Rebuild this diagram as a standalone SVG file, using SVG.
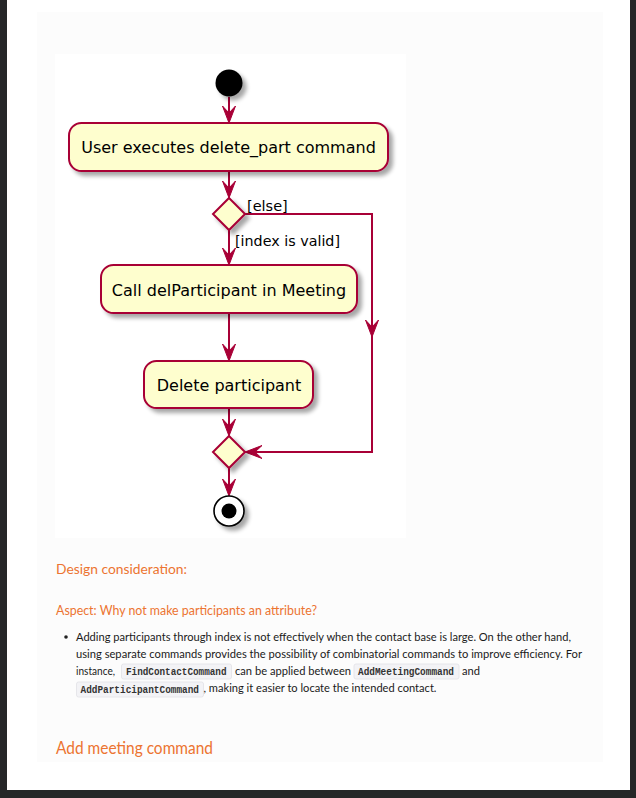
<svg xmlns="http://www.w3.org/2000/svg" width="636" height="798" viewBox="0 0 636 798">
<defs>
<filter id="sh" x="-30%" y="-30%" width="160%" height="160%">
<feGaussianBlur in="SourceAlpha" stdDeviation="2"/>
<feOffset dx="4" dy="4" result="b"/>
<feComponentTransfer><feFuncA type="linear" slope="0.35"/></feComponentTransfer>
<feMerge><feMergeNode/><feMergeNode in="SourceGraphic"/></feMerge>
</filter>
<path id="ah" d="M-6.5,-17 L0,0 L6.5,-17 L0,-10 Z" fill="#A80036" stroke="#A80036" stroke-width="1" stroke-linejoin="miter"/>
</defs>
<style>
.act{fill:#FEFECE;stroke:#A80036;stroke-width:2}
.lbl{font-family:"DejaVu Sans",Verdana,sans-serif;font-size:16px;fill:#000;text-anchor:middle}
.grd{font-family:"DejaVu Sans",Verdana,sans-serif;font-size:14.5px;fill:#000}
.ln{fill:none;stroke:#A80036;stroke-width:2}
.h{font-family:Lato,"Open Sans",sans-serif;fill:#ec7431}
.b{font-family:Lato,"Open Sans",sans-serif;font-size:11px;fill:#1a1a1a}
.code{font-family:"Liberation Mono","DejaVu Sans Mono",monospace;font-size:10px;font-weight:bold;fill:#333}
.cb{fill:#f3f3f6;stroke:#e6e6ea;stroke-width:1}
</style>
<!-- page -->
<rect x="0" y="0" width="636" height="798" fill="#262728"/>
<rect x="7" y="0" width="623" height="790" fill="#ffffff"/>
<rect x="37" y="12" width="566" height="750" fill="#fcfcfc"/>
<rect x="55" y="54" width="351" height="484" fill="#ffffff"/>

<g id="connectors">
<line class="ln" x1="229" y1="97" x2="229" y2="121"/>
<use href="#ah" x="229" y="123"/>
<line class="ln" x1="229" y1="171" x2="229" y2="196"/>
<use href="#ah" x="229" y="198"/>
<line class="ln" x1="229" y1="230" x2="229" y2="263"/>
<use href="#ah" x="229" y="265"/>
<line class="ln" x1="229" y1="313" x2="229" y2="359"/>
<use href="#ah" x="229" y="361"/>
<line class="ln" x1="229" y1="408" x2="229" y2="434"/>
<use href="#ah" x="229" y="436"/>
<line class="ln" x1="229" y1="468" x2="229" y2="494"/>
<use href="#ah" x="229" y="496"/>
<path class="ln" d="M245,214 H372 V452 H247"/>
<use href="#ah" transform="translate(372,337)"/>
<use href="#ah" transform="translate(245,452) rotate(90)"/>
<text class="grd" x="247" y="210.5">[else]</text>
<text class="grd" x="235" y="245.5" textLength="105" lengthAdjust="spacingAndGlyphs">[index is valid]</text>
</g>

<g id="start">
<circle cx="229" cy="83" r="13.5" fill="#000" filter="url(#sh)"/>
</g>
<g id="userExecutes">
<rect class="act" x="69" y="123" width="319" height="48" rx="12.5" filter="url(#sh)"/>
<text class="lbl" x="228.5" y="153">User executes delete_part command</text>
</g>
<g id="decision">
<polygon class="act" points="229,198 245,214 229,230 213,214" filter="url(#sh)"/>
</g>
<g id="callDel">
<rect class="act" x="101" y="265" width="256" height="48" rx="12.5" filter="url(#sh)"/>
<text class="lbl" x="229" y="295.5">Call delParticipant in Meeting</text>
</g>
<g id="deletePart">
<rect class="act" x="144" y="361" width="169" height="47" rx="12.5" filter="url(#sh)"/>
<text class="lbl" x="229" y="391">Delete participant</text>
</g>
<g id="merge">
<polygon class="act" points="229,436 245,452 229,468 213,452" filter="url(#sh)"/>
</g>
<g id="end">
<circle cx="229" cy="511" r="15" fill="#fff" stroke="#000" stroke-width="1.6" filter="url(#sh)"/>
<circle cx="229" cy="511" r="7.5" fill="#000"/>
</g>

<g id="text">
<text class="h" x="56" y="574" font-size="13.5" textLength="131" lengthAdjust="spacingAndGlyphs">Design consideration:</text>
<text class="h" x="56" y="615" font-size="12.5" textLength="261" lengthAdjust="spacingAndGlyphs">Aspect: Why not make participants an attribute?</text>
<circle cx="66" cy="637" r="1.8" fill="#222"/>
<text class="b" x="76" y="640.5" textLength="495" lengthAdjust="spacingAndGlyphs">Adding participants through index is not effectively when the contact base is large. On the other hand,</text>
<text class="b" x="76" y="657.5" textLength="506" lengthAdjust="spacingAndGlyphs">using separate commands provides the possibility of combinatorial commands to improve efficiency. For</text>
<text class="b" x="76" y="674.5" textLength="39" lengthAdjust="spacingAndGlyphs">instance,</text>
<rect class="cb" x="121.5" y="664" width="110" height="15" rx="2"/>
<text class="code" x="126" y="674.5" textLength="100.5" lengthAdjust="spacingAndGlyphs">FindContactCommand</text>
<text class="b" x="235" y="674.5" textLength="116" lengthAdjust="spacingAndGlyphs">can be applied between</text>
<rect class="cb" x="354" y="664" width="105" height="15" rx="2"/>
<text class="code" x="358" y="674.5" textLength="96" lengthAdjust="spacingAndGlyphs">AddMeetingCommand</text>
<text class="b" x="462" y="674.5" textLength="18" lengthAdjust="spacingAndGlyphs">and</text>
<rect class="cb" x="76.5" y="682" width="127" height="15" rx="2"/>
<text class="code" x="80.5" y="692.5" textLength="118.5" lengthAdjust="spacingAndGlyphs">AddParticipantCommand</text>
<text class="b" x="203.5" y="691.5" textLength="233" lengthAdjust="spacingAndGlyphs">, making it easier to locate the intended contact.</text>
<text class="h" x="56" y="754" font-size="16.5" textLength="157" lengthAdjust="spacingAndGlyphs">Add meeting command</text>
</g>
</svg>
